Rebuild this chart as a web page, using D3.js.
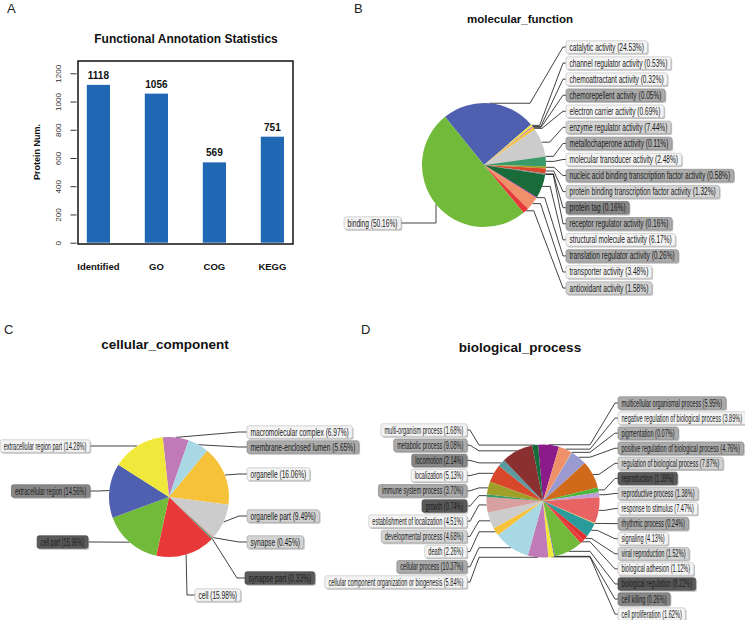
<!DOCTYPE html>
<html><head><meta charset="utf-8">
<script src="https://cdn.jsdelivr.net/npm/d3@7"></script>
<style>body{margin:0;background:#fff}</style>
</head><body>
<script>
// ---------- DATA ----------
const barCategories = ["Identified", "GO", "COG", "KEGG"];
const barValues = [1118, 1056, 569, 751];
const barTicks = [0, 200, 400, 600, 800, 1000, 1200];

// slices in drawing (clockwise) order
const mfLabels = ["catalytic activity", "channel regulator activity", "chemoattractant activity", "chemorepellent activity",
  "electron carrier activity", "enzyme regulator activity", "metallochaperone activity", "molecular transducer activity",
  "nucleic acid binding transcription factor activity", "protein binding transcription factor activity", "protein tag",
  "receptor regulator activity", "structural molecule activity", "translation regulator activity", "transporter activity",
  "antioxidant activity", "binding"];
const mfValues = [24.53, 0.53, 0.32, 0.05, 0.69, 7.44, 0.11, 2.48, 0.58, 1.32, 0.16, 0.16, 6.17, 0.26, 3.48, 1.58, 50.16];

const ccLabels = ["macromolecular complex", "membrane-enclosed lumen", "organelle", "organelle part", "synapse", "synapse part",
  "cell", "cell part", "extracellular region", "extracellular region part"];
const ccValues = [6.97, 5.65, 16.06, 9.49, 0.45, 0.33, 15.98, 15.96, 14.56, 14.28];

const bpLabels = ["multicellular organismal process", "negative regulation of biological process", "pigmentation",
  "positive regulation of biological process", "regulation of biological process", "reproduction", "reproductive process",
  "response to stimulus", "rhythmic process", "signaling", "viral reproduction", "biological adhesion", "biological regulation",
  "cell killing", "cell proliferation", "cellular component organization or biogenesis", "cellular process", "death",
  "developmental process", "establishment of localization", "growth", "immune system process", "localization", "locomotion",
  "metabolic process", "multi-organism process"];
const bpValues = [5.95, 3.89, 0.07, 4.76, 7.87, 1.39, 1.38, 7.47, 0.24, 4.13, 1.52, 1.12, 8.22, 0.26, 1.62, 5.84, 10.37, 2.26,
  4.68, 4.51, 0.74, 3.70, 5.13, 2.14, 9.08, 1.68];

// ---------- STYLE ----------
const PALETTE = ['#e8383a', '#72bb3a', '#5060b0', '#f0e83a', '#c07ab8', '#a8d8e4', '#f5c23a', '#cccccc', '#d8a0a0', '#3a9a6a',
  '#a0a028', '#d9472b', '#5a9aa0', '#8b3030', '#1a6b3a', '#8b1a8b', '#f0906a', '#d8d860', '#9a9ad0', '#d06a1a', '#4ab83a',
  '#c0a0d8', '#e86464', '#f0c040', '#2a9a9a', '#e03030'];
const SHADES = { w: '#f3f3f3', l: '#d3d3d3', m: '#ababab', d: '#888888', k: '#5a5a5a' };
const boxShade = {
  "catalytic activity": 'w', "channel regulator activity": 'w', "chemoattractant activity": 'w', "chemorepellent activity": 'm',
  "electron carrier activity": 'w', "enzyme regulator activity": 'l', "metallochaperone activity": 'm',
  "molecular transducer activity": 'w', "nucleic acid binding transcription factor activity": 'm',
  "protein binding transcription factor activity": 'l', "protein tag": 'd', "receptor regulator activity": 'm',
  "structural molecule activity": 'w', "translation regulator activity": 'm', "transporter activity": 'w',
  "antioxidant activity": 'l', "binding": 'w',
  "macromolecular complex": 'w', "membrane-enclosed lumen": 'm', "organelle": 'w', "organelle part": 'l', "synapse": 'l',
  "synapse part": 'k', "cell": 'w', "cell part": 'k', "extracellular region": 'd', "extracellular region part": 'w',
  "multicellular organismal process": 'm', "negative regulation of biological process": 'w', "pigmentation": 'm',
  "positive regulation of biological process": 'm', "regulation of biological process": 'l', "reproduction": 'k',
  "reproductive process": 'l', "response to stimulus": 'w', "rhythmic process": 'm', "signaling": 'w',
  "viral reproduction": 'l', "biological adhesion": 'w', "biological regulation": 'k', "cell killing": 'd',
  "cell proliferation": 'w', "cellular component organization or biogenesis": 'w', "cellular process": 'm', "death": 'w',
  "developmental process": 'l', "establishment of localization": 'w', "growth": 'k', "immune system process": 'm',
  "localization": 'w', "locomotion": 'd', "metabolic process": 'm', "multi-organism process": 'w'
};

const FONT = '"Liberation Sans", Arial, Helvetica, sans-serif';
const svg = d3.select('body').append('svg').attr('width', 745).attr('height', 620)
  .style('font-family', FONT).style('background', '#fff');

function panelLetter(t, x, y) {
  svg.append('text').attr('x', x).attr('y', y).attr('font-size', 13).attr('fill', '#222').text(t);
}
function title(t, x, y, size) {
  svg.append('text').attr('x', x).attr('y', y).attr('text-anchor', 'middle').attr('font-size', size)
    .attr('font-weight', 'bold').attr('fill', '#111').text(t);
}

// ---------- PANEL A ----------
panelLetter('A', 7, 13);
title('Functional Annotation Statistics', 186, 43, 12);
const gA = svg.append('g');
const yA = d3.scaleLinear().domain([0, 1200]).range([242.7, 73.3]);
const xA = d3.scaleBand().domain(barCategories).range([69.4, 301.4]).paddingInner(0.6).paddingOuter(0.3);
gA.selectAll('rect.bar').data(barCategories).join('rect').attr('class', 'bar')
  .attr('x', d => xA(d)).attr('width', xA.bandwidth())
  .attr('y', (d, i) => yA(barValues[i])).attr('height', (d, i) => yA(0) - yA(barValues[i]))
  .attr('fill', '#2068b4');
gA.append('rect').attr('x', 78).attr('y', 61).attr('width', 215).attr('height', 183)
  .attr('fill', 'none').attr('stroke', '#111').attr('stroke-width', 1.5);
const yAxisA = d3.axisLeft(yA).tickValues(barTicks).tickFormat(d3.format('d')).tickSize(6);
const axG = gA.append('g').attr('transform', 'translate(76.5,0)').call(yAxisA);
axG.select('.domain').remove();
axG.selectAll('.tick line').attr('stroke', '#333');
axG.selectAll('.tick text').attr('font-size', 8).attr('fill', '#333').attr('font-family', FONT)
  .attr('text-anchor', 'middle').attr('x', 0).attr('y', 0).attr('dy', null)
  .attr('transform', 'translate(-18,0) rotate(-90) translate(0,2.8)');

gA.selectAll('text.val').data(barCategories).join('text').attr('class', 'val')
  .attr('x', d => xA(d) + xA.bandwidth() / 2).attr('y', (d, i) => yA(barValues[i]) - 6)
  .attr('text-anchor', 'middle').attr('font-size', 10).attr('font-weight', 'bold').attr('fill', '#111')
  .text((d, i) => barValues[i]);
gA.selectAll('text.cat').data(barCategories).join('text').attr('class', 'cat')
  .attr('x', d => xA(d) + xA.bandwidth() / 2).attr('y', 270)
  .attr('text-anchor', 'middle').attr('font-size', 9.5).attr('font-weight', 'bold').attr('fill', '#111').text(d => d);
gA.append('text').attr('transform', 'translate(40,152) rotate(-90)').attr('text-anchor', 'middle')
  .attr('font-size', 9).attr('font-weight', 'bold').attr('fill', '#111').text('Protein Num.');

// ---------- PIE HELPER ----------
function drawPie(labels, values, cx, cy, r, startDeg, place, route, scaleFor) {
  const g = svg.append('g');
  const start = startDeg * Math.PI / 180;
  const ranked = labels.slice().sort((a, b) => a < b ? -1 : a > b ? 1 : 0);
  const pie = d3.pie().sort(null).value(d => d.v).startAngle(start).endAngle(start + 2 * Math.PI);
  const arcs = pie(labels.map((l, i) => ({ l, v: values[i], i })));
  const arc = d3.arc().innerRadius(0).outerRadius(r);
  const lineLayer = g.append('g');
  g.append('g').attr('transform', `translate(${cx},${cy})`).selectAll('path').data(arcs).join('path')
    .attr('d', arc).attr('fill', d => PALETTE[ranked.indexOf(d.data.l)]);
  const boxLayer = g.append('g');
  arcs.forEach((a, i) => {
    const mid = (a.startAngle + a.endAngle) / 2;
    const anchor = [cx + r * Math.sin(mid), cy - r * Math.cos(mid)];
    const p = place(i, a.data.l, anchor);
    const sc = scaleFor(p);
    const str = `${a.data.l} (${values[i].toFixed(2)}%)`;
    const t = boxLayer.append('text').attr('font-size', 10).attr('fill', '#1a1a1a').attr('x', 0).attr('y', 0).text(str);
    const tw = t.node().getComputedTextLength() * sc;
    const bw = tw + 7, bh = 12.5;
    const bx = p.side === 'R' ? p.edge : p.edge - bw;
    const shade = SHADES[boxShade[a.data.l] || 'w'];
    boxLayer.insert('rect', () => t.node()).attr('x', bx + 1.2).attr('y', p.y - bh / 2 + 1.5)
      .attr('width', bw).attr('height', bh).attr('rx', 2).attr('fill', '#8c8c8c').attr('opacity', 0.55);
    boxLayer.insert('rect', () => t.node()).attr('x', bx).attr('y', p.y - bh / 2)
      .attr('width', bw).attr('height', bh).attr('rx', 2).attr('fill', shade)
      .attr('stroke', d3.color(shade).darker(0.6)).attr('stroke-width', 0.7);
    t.attr('transform', `translate(${bx + 3.5},${p.y + 3.5}) scale(${sc},1)`);
    const pts = route(anchor, p);
    lineLayer.append('path').attr('d', d3.line()(pts)).attr('fill', 'none')
      .attr('stroke', '#111').attr('stroke-width', 0.8);
  });
}

// ---------- PANEL B ----------
panelLetter('B', 354, 13);
title('molecular_function', 520, 23, 11.5);
drawPie(mfLabels, mfValues, 484, 165, 62, -39,
  (i, l) => l === 'binding' ? { side: 'L', edge: 401, y: 223 } : { side: 'R', edge: 566, y: 47 + i * 16.07 },
  (a, p) => p.side === 'R'
    ? [a, [Math.max(a[0] + 8, p.edge - 36), a[1]], [p.edge - 3, p.y], [p.edge, p.y]]
    : [a, [p.edge + 35, p.y], [p.edge, p.y]],
  () => 0.66);

// ---------- PANEL C ----------
panelLetter('C', 4, 334);
title('cellular_component', 165, 349, 13.5);
const ccLayout = {
  "macromolecular complex": ['R', 247, 432], "membrane-enclosed lumen": ['R', 247, 447], "organelle": ['R', 247, 474],
  "organelle part": ['R', 247, 516], "synapse": ['R', 247, 542], "synapse part": ['R', 245, 578], "cell": ['R', 195, 595],
  "cell part": ['L', 88, 542], "extracellular region": ['L', 90, 491], "extracellular region part": ['L', 90, 446]
};
drawPie(ccLabels, ccValues, 169, 497, 60, -6,
  (i, l) => ({ side: ccLayout[l][0], edge: ccLayout[l][1], y: ccLayout[l][2] }),
  (a, p) => p.side === 'R' ? [a, [p.edge - 8, p.y], [p.edge, p.y]] : [a, [p.edge + 8, p.y], [p.edge, p.y]],
  p => p.side === 'R' ? 0.66 : 0.56);

// ---------- PANEL D ----------
panelLetter('D', 361, 334);
title('biological_process', 520, 352, 13.5);
drawPie(bpLabels, bpValues, 543, 501, 56.5, -5,
  (i) => i < 15 ? { side: 'R', edge: 618, y: 403 + i * 15.08 } : { side: 'L', edge: 467, y: 430 + (25 - i) * 15.2 },
  (a, p) => p.side === 'R'
    ? [a, [Math.max(a[0] + 6, p.edge - 28), a[1]], [p.edge - 3, p.y], [p.edge, p.y]]
    : [a, [Math.min(a[0] - 6, p.edge + 12), a[1]], [p.edge + 3, p.y], [p.edge, p.y]],
  () => 0.56);
</script>
</body></html>
